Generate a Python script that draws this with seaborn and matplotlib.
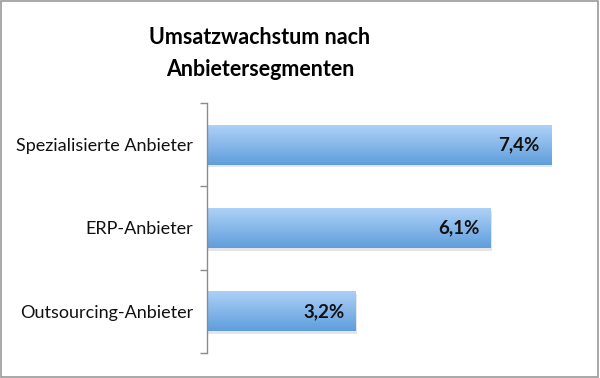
import numpy as np
import pandas as pd
import seaborn as sns
import matplotlib.pyplot as plt
from matplotlib.patches import Rectangle

# Chart data
segments = ["Spezialisierte Anbieter", "ERP-Anbieter", "Outsourcing-Anbieter"]
growth = [7.4, 6.1, 3.2]
value_labels = ["7,4%", "6,1%", "3,2%"]

df = pd.DataFrame({"Segment": segments, "Wachstum": growth})

sns.set_theme(style="white")
plt.rcParams['font.family'] = ['Lato', 'DejaVu Sans']

fig = plt.figure(figsize=(6, 3.78), dpi=100)
ax = fig.add_axes([207 / 600, 1 - 353 / 378, 372 / 600, 250 / 378])

sns.barplot(data=df, x="Wachstum", y="Segment", orient="h", ax=ax,
            color="#7fb2e8", width=0.48, saturation=1)

# gradient fill + soft shadow on each bar
grad = np.linspace(0, 1, 64).reshape(-1, 1)
cmap = sns.blend_palette(["#aed1f7", "#5f9edc"], as_cmap=True)
for bar in ax.patches:
    x0, y0 = bar.get_x(), bar.get_y()
    w, h = bar.get_width(), bar.get_height()
    shadow = Rectangle((x0, y0 + 0.03), w + 0.03, h, color="#000000",
                       alpha=0.10, zorder=1, linewidth=0)
    ax.add_patch(shadow)
    im = ax.imshow(grad, extent=[x0, x0 + w, y0 + h, y0], cmap=cmap,
                   aspect="auto", zorder=2, origin="upper")
    im.set_clip_path(bar)
    bar.set_zorder(2)
    bar.set_edgecolor("none")

for i, (v, lab) in enumerate(zip(growth, value_labels)):
    ax.text(v - 0.24, i, lab, ha="right", va="center", fontsize=13.5,
            fontweight="bold", color="#111111", zorder=3)

ax.set_xlim(0, 8)
ax.set_ylim(2.5, -0.5)
ax.set_xlabel("")
ax.set_ylabel("")
ax.set_xticks([])
ax.set_yticks([0, 1, 2])
ax.set_yticklabels(segments, fontsize=13, color="#111111")
ax.set_yticks([-0.5, 0.5, 1.5, 2.5], minor=True)
ax.tick_params(axis="y", which="major", length=0, pad=10)
ax.tick_params(axis="y", which="minor", length=5, width=1, color="#8c8c8c",
               direction="out", left=True)
for side in ["top", "right", "bottom"]:
    ax.spines[side].set_visible(False)
ax.spines["left"].set_color("#8c8c8c")
ax.spines["left"].set_linewidth(1)

fig.text(260 / 600, 1 - 37 / 378, "Umsatzwachstum nach", ha="center", va="center",
         fontsize=15.5, fontweight="bold", color="#000000")
fig.text(260 / 600, 1 - 69 / 378, "Anbietersegmenten", ha="center", va="center",
         fontsize=15.5, fontweight="bold", color="#000000")

# outer frame
fig.patches.append(Rectangle((0.002, 0.003), 0.995, 0.994, transform=fig.transFigure,
                             fill=False, edgecolor="#9a9a9a", linewidth=1.2))

fig.savefig("out.png", dpi=100)
